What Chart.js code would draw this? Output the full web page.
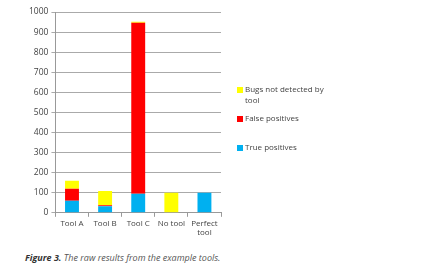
<!DOCTYPE html>
<html>
<head>
<meta charset="utf-8">
<script src="https://cdn.jsdelivr.net/npm/chart.js"></script>
<style>
  body { margin: 0; background: #fff; width: 428px; height: 272px; overflow: hidden; }
  #wrap { position: relative; width: 428px; height: 246px; }
  #caption { position: absolute; left: 25px; top: 251px; font: italic 9px "Open Sans", sans-serif; color: #555; }
  #caption b { color: #333; }
</style>
</head>
<body>
<div id="wrap"><canvas id="rawChart" width="428" height="246"></canvas></div>
<div id="caption"><b>Figure 3.</b> The raw results from the example tools.</div>
<script>
const categories = [['Tool A'], ['Tool B'], ['Tool C'], ['No tool'], ['Perfect', 'tool']];
const truePositives = [60, 33, 95, 0, 100];
const falsePositives = [60, 5, 852, 0, 0];
const notDetected = [40, 70, 5, 100, 0];
const yTicks = [0, 100, 200, 300, 400, 500, 600, 700, 800, 900, 1000];

// legend drawn beside the plot, top item = last dataset
const sideLegend = {
  id: 'sideLegend',
  afterDraw(chart) {
    const ctx = chart.ctx;
    const items = [
      { ds: 2, lines: ['Bugs not detected by', 'tool'], y: 90 },
      { ds: 1, lines: ['False positives'], y: 119 },
      { ds: 0, lines: ['True positives'], y: 148 }
    ];
    ctx.save();
    ctx.font = '8px "Open Sans", sans-serif';
    ctx.textBaseline = 'middle';
    items.forEach(it => {
      ctx.fillStyle = chart.data.datasets[it.ds].backgroundColor;
      ctx.fillRect(237, it.y - 3, 6, 6);
      ctx.fillStyle = '#444';
      it.lines.forEach((t, i) => ctx.fillText(t, 245, it.y + i * 11));
    });
    ctx.restore();
  }
};

new Chart(document.getElementById('rawChart').getContext('2d'), {
  type: 'bar',
  data: {
    labels: categories,
    datasets: [
      { label: 'True positives', data: truePositives, backgroundColor: '#00b0f0' },
      { label: 'False positives', data: falsePositives, backgroundColor: '#ff0000' },
      { label: 'Bugs not detected by tool', data: notDetected, backgroundColor: '#ffff00' }
    ]
  },
  options: {
    responsive: false,
    animation: false,
    layout: { padding: { top: 12, right: 207, left: 26, bottom: 6 } },
    datasets: { bar: { barPercentage: 0.7, categoryPercentage: 0.6 } },
    plugins: { legend: { display: false }, tooltip: { enabled: false } },
    scales: {
      x: {
        stacked: true,
        grid: { offset: true, drawOnChartArea: false, color: '#999', tickLength: 4 },
        border: { color: '#999' },
        ticks: { color: '#444', font: { size: 8, family: 'Open Sans' }, padding: 2, maxRotation: 0, autoSkip: false }
      },
      y: {
        stacked: true,
        min: 0,
        max: 1000,
        afterBuildTicks: axis => { axis.ticks = yTicks.map(v => ({ value: v })); },
        grid: { color: '#aaa', tickLength: 4 },
        border: { color: '#999' },
        ticks: { color: '#444', font: { size: 8.5, family: 'Open Sans' }, padding: 3, callback: v => String(v) }
      }
    }
  },
  plugins: [sideLegend]
});
</script>
</body>
</html>
